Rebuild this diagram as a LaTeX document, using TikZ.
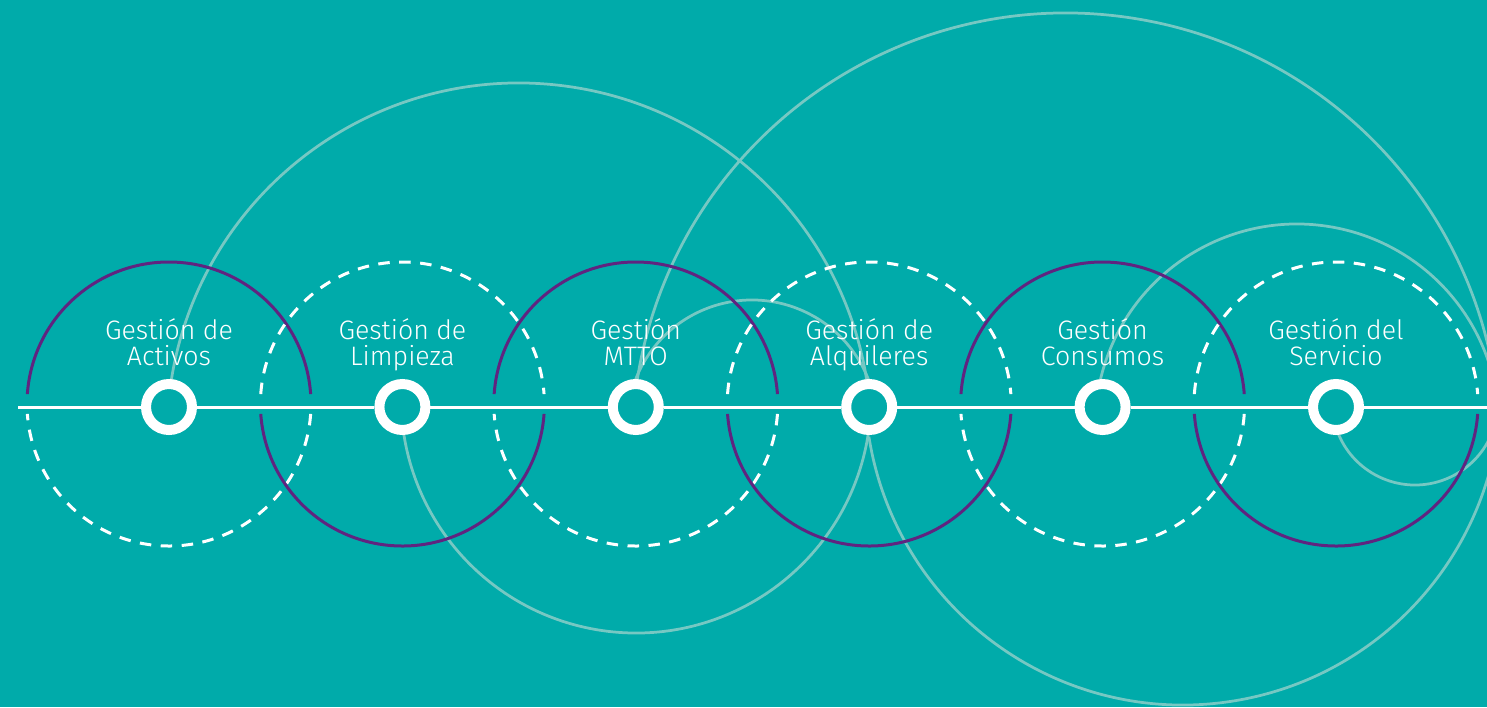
\documentclass[tikz,border=0pt]{standalone}
\usepackage{fontspec}
\setmainfont{Fira Sans}[UprightFont={* Light}]
\definecolor{bg}{RGB}{0,171,170}
\definecolor{plum}{RGB}{96,36,128}
\definecolor{faint}{RGB}{118,200,195}
\tikzset{
  ring/.style={circle,draw=white,line width=0.2cm,fill=bg,minimum size=0.92cm,inner sep=0pt},
  spine/.style={white,line width=0.06cm},
  halo/.style={plum,line width=0.06cm},
  dashhalo/.style={white,line width=0.06cm,dash pattern=on 0.23cm off 0.19cm},
  orbit/.style={faint,line width=0.055cm},
  lab/.style={white,align=center,anchor=base,font=\fontsize{15.2}{14.8}\selectfont}
}
\begin{document}
\begin{tikzpicture}[x=0.02cm,y=-0.02cm]
  \useasboundingbox (0,0) rectangle (1487,707);
  \clip (0,0) rectangle (1487,707);
  \fill[bg] (0,0) rectangle (1487,707);
  \foreach \cx/\cy/\r/\a/\b in {519/435/352/189/351, 752/425/125/201/339,
      1066/447/434/189/360, 1297/426/202/193/360, 636/398/235/9/171,
      1183/387/318/171/0, 1415/402/83/158/-20}
    \draw[orbit] (\cx,\cy) ++(\a:\r) arc[start angle=\a,end angle=\b,radius=\r];
  \foreach \i in {0,2,4} {
    \begin{scope}[shift={(\i*233.4,0)}]
      \draw[halo] (169,404) ++(184:142) arc[start angle=184,end angle=356,radius=142];
      \draw[dashhalo] (169,404) ++(4:142) arc[start angle=4,end angle=176,radius=142];
    \end{scope}
  }
  \foreach \i in {1,3,5} {
    \begin{scope}[shift={(\i*233.4,0)}]
      \draw[dashhalo] (169,404) ++(184:142) arc[start angle=184,end angle=356,radius=142];
      \draw[halo] (169,404) ++(4:142) arc[start angle=4,end angle=176,radius=142];
    \end{scope}
  }
  \coordinate (w) at (18,407);
  \coordinate (e) at (1487,407);
  \foreach \i in {0,...,5}
    \node[ring] (n\i) at (169+\i*233.4,407) {};
  \draw[spine] (w) -- (n0);
  \foreach \i [evaluate=\i as \j using int(\i+1)] in {0,...,4}
    \draw[spine] (n\i) -- (n\j);
  \draw[spine] (n5) -- (e);
  \foreach \i/\txt in {0/{Gestión de\\Activos}, 1/{Gestión de\\Limpieza},
      2/{Gestión\\MTTO}, 3/{Gestión de\\Alquileres},
      4/{Gestión\\Consumos}, 5/{Gestión del\\Servicio}}
    \node[lab] (t\i) at (169+\i*233.4,365) {\txt};
\end{tikzpicture}
\end{document}
